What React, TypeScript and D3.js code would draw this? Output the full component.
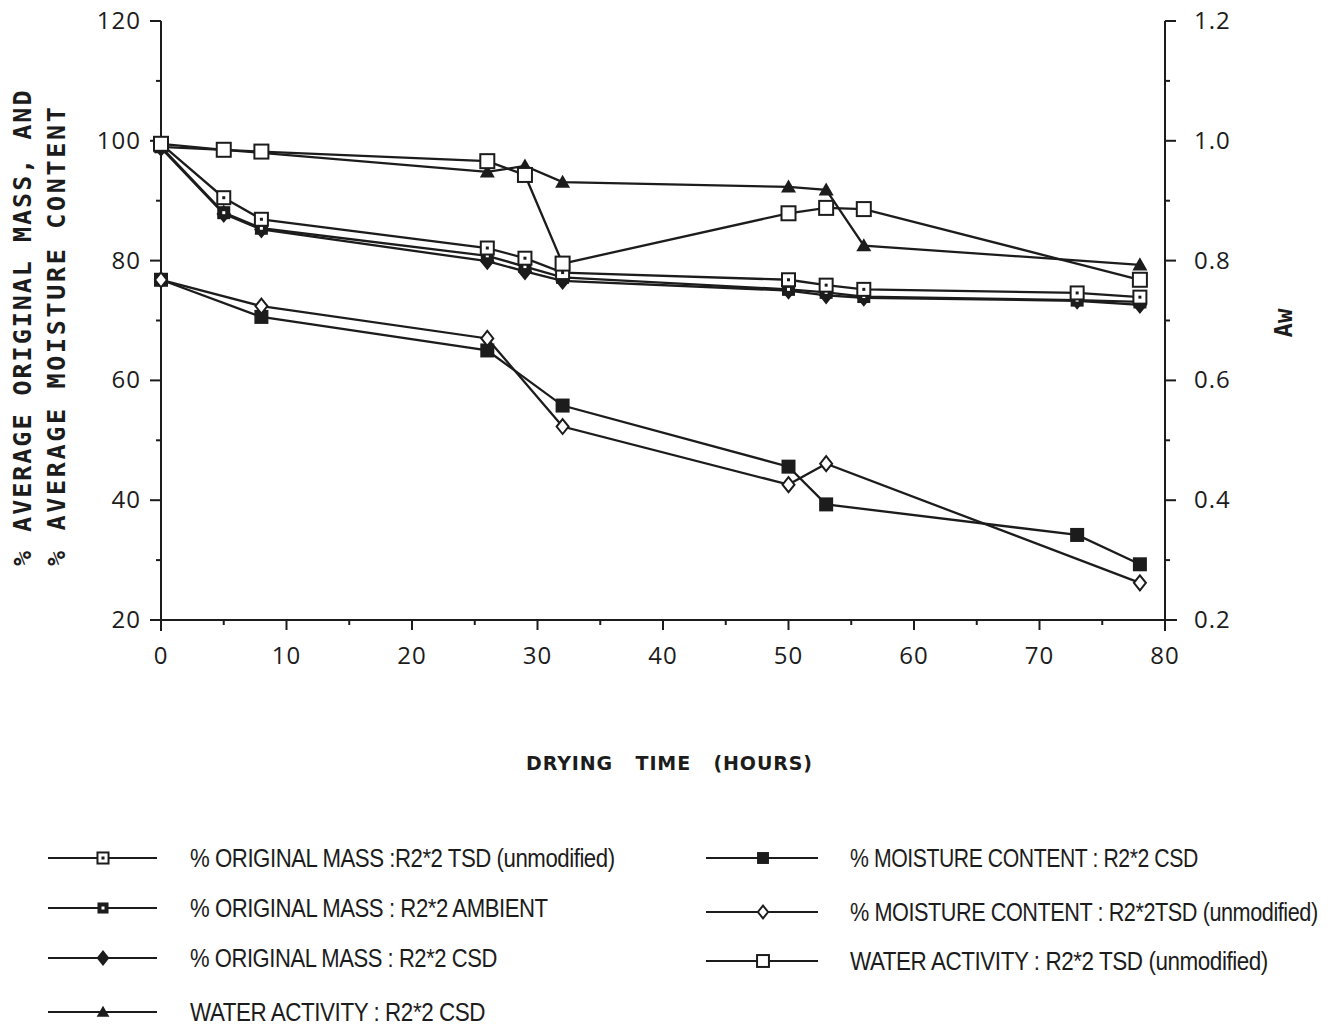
import * as d3 from 'd3';
import React, { useEffect, useRef } from 'react';

// drying time (hours) for each series
const massHours = [0, 5, 8, 26, 29, 32, 50, 53, 56, 73, 78];
const waHours = [0, 5, 8, 26, 29, 32, 50, 53, 56, 78];
const mcCsdHours = [0, 8, 26, 32, 50, 53, 73, 78];
const mcTsdHours = [0, 8, 26, 32, 50, 53, 78];

// % original mass
const massTSD = [99.5, 90.5, 86.9, 82.1, 80.4, 78.0, 76.8, 75.9, 75.2, 74.6, 73.9];
const massAmbient = [99.0, 88.0, 85.4, 80.8, 79.0, 77.2, 75.2, 74.7, 74.0, 73.4, 73.1];
const massCSD = [98.8, 87.8, 85.2, 79.9, 78.2, 76.6, 75.0, 74.2, 73.8, 73.3, 72.6];

// water activity (right axis)
const waCSD = [0.99, 0.985, 0.98, 0.948, 0.958, 0.931, 0.923, 0.918, 0.825, 0.793];
const waTSD = [0.995, 0.985, 0.982, 0.966, 0.943, 0.795, 0.879, 0.888, 0.886, 0.768];

// % moisture content
const mcCSD = [76.8, 70.6, 65.0, 55.8, 45.6, 39.3, 34.2, 29.3];
const mcTSD = [76.8, 72.4, 67.0, 52.3, 42.6, 46.1, 26.2];

const leftTicks = [20, 40, 60, 80, 100, 120];
const rightTicks = [0.2, 0.4, 0.6, 0.8, 1.0, 1.2];
const xTicks = [0, 10, 20, 30, 40, 50, 60, 70, 80];

const legendLeft = [
    { label: '% ORIGINAL MASS :R2*2 TSD (unmodified)', marker: 'dotSquare', w: 425 },
    { label: '% ORIGINAL MASS : R2*2 AMBIENT', marker: 'darkSquare', w: 358 },
    { label: '% ORIGINAL MASS : R2*2 CSD', marker: 'diamond', w: 307 },
    { label: 'WATER ACTIVITY : R2*2 CSD', marker: 'triangle', w: 295 },
];
const legendRight = [
    { label: '% MOISTURE CONTENT : R2*2 CSD', marker: 'square', w: 348 },
    { label: '% MOISTURE CONTENT : R2*2TSD (unmodified)', marker: 'openDiamond', w: 468 },
    { label: 'WATER ACTIVITY : R2*2 TSD (unmodified)', marker: 'openSquare', w: 418 },
];

const INK = '#1c1c1c';

function drawMarker(g, type, x, y, legend = false) {
    const s = legend ? 0.85 : 1;
    if (type === 'dotSquare') {
        const h = 6.5 * s;
        g.append('rect').attr('x', x - h).attr('y', y - h).attr('width', 2 * h).attr('height', 2 * h)
            .attr('fill', 'white').attr('stroke', INK).attr('stroke-width', 2);
        g.append('rect').attr('x', x - 1.5).attr('y', y - 1.5).attr('width', 3).attr('height', 3).attr('fill', INK);
    } else if (type === 'darkSquare') {
        const h = 6.5 * s;
        g.append('rect').attr('x', x - h).attr('y', y - h).attr('width', 2 * h).attr('height', 2 * h)
            .attr('fill', INK);
        g.append('rect').attr('x', x - 1.5).attr('y', y - 1.5).attr('width', 3).attr('height', 3).attr('fill', 'white');
    } else if (type === 'square') {
        const h = 7 * s;
        g.append('rect').attr('x', x - h).attr('y', y - h).attr('width', 2 * h).attr('height', 2 * h).attr('fill', INK);
    } else if (type === 'openSquare') {
        const h = 7 * s;
        g.append('rect').attr('x', x - h).attr('y', y - h).attr('width', 2 * h).attr('height', 2 * h)
            .attr('fill', 'white').attr('stroke', INK).attr('stroke-width', 2);
    } else if (type === 'diamond' || type === 'openDiamond') {
        const h = 7.5 * s;
        g.append('path').attr('d', `M${x},${y - h}L${x + h * 0.8},${y}L${x},${y + h}L${x - h * 0.8},${y}Z`)
            .attr('fill', type === 'diamond' ? INK : 'white').attr('stroke', INK).attr('stroke-width', 2);
    } else if (type === 'triangle') {
        const h = 7.5 * s;
        g.append('path').attr('d', `M${x},${y - h}L${x + h},${y + h * 0.75}L${x - h},${y + h * 0.75}Z`)
            .attr('fill', INK);
    }
}

function DryingChart() {
    const ref = useRef(null);

    useEffect(() => {
        const svg = d3.select(ref.current);
        svg.selectAll('*').remove();

        const x = d3.scaleLinear().domain([0, 80]).range([161, 1165]);
        const yL = d3.scaleLinear().domain([20, 120]).range([620, 21]);
        const yR = d3.scaleLinear().domain([0.2, 1.2]).range([620, 21]);

        const axes = svg.append('g').attr('stroke', INK).attr('stroke-width', 2);
        axes.append('line').attr('x1', x(0)).attr('x2', x(0)).attr('y1', yL(120)).attr('y2', yL(20) + 11);
        axes.append('line').attr('x1', x(80)).attr('x2', x(80)).attr('y1', yR(1.2)).attr('y2', yR(0.2) + 11);
        axes.append('line').attr('x1', x(0) - 11).attr('x2', x(80) + 12).attr('y1', yL(20)).attr('y2', yL(20));

        d3.range(20, 121, 10).forEach(v => {
            const len = v % 20 === 0 ? 11 : 5;
            axes.append('line').attr('x1', x(0) - len).attr('x2', x(0)).attr('y1', yL(v)).attr('y2', yL(v));
        });
        d3.range(0.2, 1.21, 0.1).forEach(v => {
            const major = Math.round(v * 10) % 2 === 0;
            const len = major ? 11 : 5;
            axes.append('line').attr('x1', x(80)).attr('x2', x(80) + len).attr('y1', yR(v)).attr('y2', yR(v));
        });
        d3.range(5, 80, 5).forEach(v => {
            const len = v % 10 === 0 ? 10 : 5;
            axes.append('line').attr('x1', x(v)).attr('x2', x(v)).attr('y1', yL(20)).attr('y2', yL(20) + len);
        });

        const tickFont = '"Open Sans", "DejaVu Sans", sans-serif';
        svg.append('g').selectAll('text').data(leftTicks).enter().append('text')
            .attr('x', 141).attr('y', d => yL(d) + 8)
            .attr('text-anchor', 'end').attr('font-family', tickFont).attr('font-size', 24)
            .attr('letter-spacing', 1).attr('fill', INK)
            .text(d => d);
        svg.append('g').selectAll('text').data(rightTicks).enter().append('text')
            .attr('x', 1194).attr('y', d => yR(d) + 8)
            .attr('font-family', tickFont).attr('font-size', 24).attr('letter-spacing', 1).attr('fill', INK)
            .text(d => d.toFixed(1));
        svg.append('g').selectAll('text').data(xTicks).enter().append('text')
            .attr('x', d => x(d)).attr('y', 664)
            .attr('text-anchor', 'middle').attr('font-family', tickFont).attr('font-size', 24)
            .attr('letter-spacing', 1).attr('fill', INK)
            .text(d => d);

        // axis titles
        const mono = '"DejaVu Sans Mono", monospace';
        [['% AVERAGE ORIGINAL MASS, AND', 31, 2], ['% AVERAGE MOISTURE CONTENT', 65, 2.7]].forEach(([t, cx, ls]) => {
            svg.append('text')
                .attr('transform', `translate(${cx},566) rotate(-90)`)
                .attr('font-family', mono).attr('font-weight', 'bold').attr('font-size', 25)
                .attr('letter-spacing', ls).attr('fill', INK)
                .text(t);
        });
        svg.append('text')
            .attr('transform', 'translate(1292,323) rotate(-90)')
            .attr('text-anchor', 'middle')
            .attr('font-family', mono).attr('font-weight', 'bold').attr('font-size', 24).attr('fill', INK)
            .text('Aw');
        svg.append('text')
            .attr('x', 526).attr('y', 770)
            .attr('textLength', 286).attr('lengthAdjust', 'spacing')
            .attr('font-family', '"DejaVu Sans", sans-serif').attr('font-size', 19).attr('font-weight', 600)
            .attr('fill', INK).style('white-space', 'pre')
            .text('DRYING   TIME   (HOURS)');

        // series
        const series = [
            { xs: massHours, ys: massCSD, scale: yL, marker: 'diamond' },
            { xs: massHours, ys: massAmbient, scale: yL, marker: 'darkSquare' },
            { xs: massHours, ys: massTSD, scale: yL, marker: 'dotSquare' },
            { xs: waHours, ys: waCSD, scale: yR, marker: 'triangle' },
            { xs: waHours, ys: waTSD, scale: yR, marker: 'openSquare' },
            { xs: mcCsdHours, ys: mcCSD, scale: yL, marker: 'square' },
            { xs: mcTsdHours, ys: mcTSD, scale: yL, marker: 'openDiamond' },
        ];
        const line = d3.line();
        const plot = svg.append('g');
        series.forEach(s => {
            const pts = s.xs.map((h, i) => [x(h), s.scale(s.ys[i])]);
            plot.append('path').attr('d', line(pts)).attr('fill', 'none')
                .attr('stroke', INK).attr('stroke-width', 2.3);
        });
        series.forEach(s => {
            s.xs.forEach((h, i) => drawMarker(plot, s.marker, x(h), s.scale(s.ys[i])));
        });

        // legend: condensed text, squeezed horizontally to the widths in the original
        const legFont = '"Liberation Sans", "Noto Sans", sans-serif';
        const leg = svg.append('g');
        const addEntry = (d, lx1, lx2, mx, tx, y) => {
            leg.append('line').attr('x1', lx1).attr('x2', lx2).attr('y1', y).attr('y2', y)
                .attr('stroke', INK).attr('stroke-width', 2);
            drawMarker(leg, d.marker, mx, y, true);
            const t = leg.append('text').attr('x', 0).attr('y', 0)
                .attr('font-family', legFont).attr('font-size', 25).attr('letter-spacing', -0.5).attr('fill', INK)
                .text(d.label);
            const natural = t.node().getComputedTextLength() || d.w;
            t.attr('transform', `translate(${tx},${y + 9}) scale(${d.w / natural},1)`);
        };
        const leftRows = [858, 908, 958, 1012];
        const rightRows = [858, 912, 961];
        legendLeft.forEach((d, i) => addEntry(d, 48, 157, 103, 190, leftRows[i]));
        legendRight.forEach((d, i) => addEntry(d, 706, 818, 763, 850, rightRows[i]));
    }, []);

    return <svg ref={ref} width={1332} height={1029} style={{ display: 'block', background: 'white' }}></svg>;
}

export default function App() {
    return (
        <div style={{ margin: -8 }}>
            <DryingChart />
        </div>
    );
}
